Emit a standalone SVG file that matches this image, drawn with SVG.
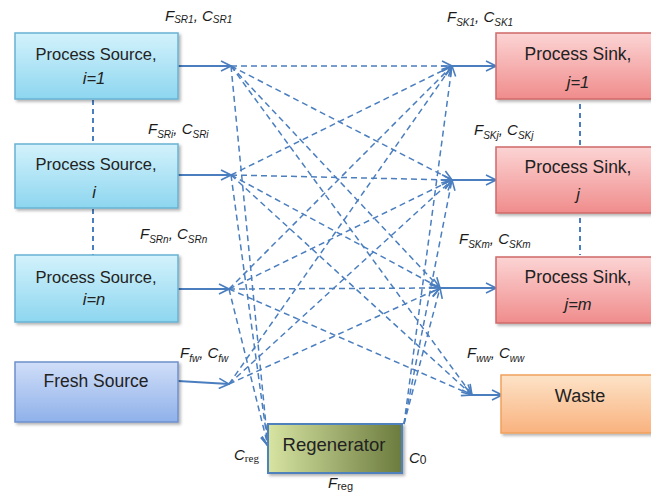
<svg xmlns="http://www.w3.org/2000/svg" width="651" height="495" viewBox="0 0 651 495">
<defs>
<linearGradient id="gSrc" x1="0" y1="0" x2="0" y2="1"><stop offset="0" stop-color="#d3f2fc"/><stop offset="1" stop-color="#8dd6ef"/></linearGradient>
<linearGradient id="gSink" x1="0" y1="0" x2="0" y2="1"><stop offset="0" stop-color="#fcd4d4"/><stop offset="1" stop-color="#f08c8c"/></linearGradient>
<linearGradient id="gWaste" x1="0" y1="0" x2="0" y2="1"><stop offset="0" stop-color="#fde3c8"/><stop offset="1" stop-color="#f9b27e"/></linearGradient>
<linearGradient id="gFresh" x1="0" y1="0" x2="0" y2="1"><stop offset="0" stop-color="#d0def8"/><stop offset="1" stop-color="#8fb1ea"/></linearGradient>
<linearGradient id="gReg" x1="0" y1="0" x2="1" y2="0"><stop offset="0" stop-color="#d7e4a2"/><stop offset="1" stop-color="#6b7b3e"/></linearGradient>
<filter id="sh" x="-10%" y="-10%" width="130%" height="140%"><feDropShadow dx="2" dy="2" stdDeviation="1.5" flood-color="#000" flood-opacity="0.3"/></filter>
<marker id="ah" viewBox="0 0 12 12" refX="11" refY="6" markerWidth="12" markerHeight="12" markerUnits="userSpaceOnUse" orient="auto">
<path d="M1,1 L11,6 L1,11" fill="none" stroke="#4a7ebf" stroke-width="1.6" stroke-dasharray="none"/>
</marker>
</defs>
<style>
.box{stroke-width:1.5;filter:url(#sh)}
.src{fill:url(#gSrc);stroke:#68b2d4}
.sink{fill:url(#gSink);stroke:#cf6a6a}
.waste{fill:url(#gWaste);stroke:#f0a15e}
.fresh{fill:url(#gFresh);stroke:#6e90cc}
.reg{fill:url(#gReg);stroke:#4f81bd;stroke-width:2}
.t{font-family:"Liberation Sans",Arial,sans-serif;font-size:16.5px;fill:#222;text-anchor:middle}
.ti{font-style:italic}
.lab{font-family:"Liberation Sans",Arial,sans-serif;font-size:15px;font-style:italic;fill:#1a1a1a}
.lab tspan.s{font-size:10px}
.solid{stroke:#4a7ebf;stroke-width:2;fill:none}
.dash{stroke:#4a7ebf;stroke-width:1.5;fill:none;stroke-dasharray:6,4}
.vd{stroke:#4a7ebf;stroke-width:2;fill:none;stroke-dasharray:5,4}
</style>

<g id="connectors">
<line class="vd" x1="93" y1="100" x2="93" y2="144"/>
<line class="vd" x1="93" y1="209" x2="93" y2="255"/>
<line class="vd" x1="580" y1="104" x2="580" y2="145"/>
<line class="vd" x1="580" y1="218" x2="580" y2="255"/>

<line class="solid" x1="178" y1="66" x2="231" y2="66" marker-end="url(#ah)"/>
<line class="solid" x1="178" y1="175" x2="231" y2="175" marker-end="url(#ah)"/>
<line class="solid" x1="178" y1="289" x2="229" y2="289" marker-end="url(#ah)"/>
<line class="solid" x1="178" y1="381" x2="229" y2="384" marker-end="url(#ah)"/>
<line class="solid" x1="452" y1="66" x2="496" y2="66" marker-end="url(#ah)"/>
<line class="solid" x1="452" y1="180" x2="496" y2="180" marker-end="url(#ah)"/>
<line class="solid" x1="440" y1="288" x2="496" y2="288" marker-end="url(#ah)"/>
<line class="solid" x1="472" y1="395" x2="502" y2="395" marker-end="url(#ah)"/>

<line class="dash" x1="231" y1="66" x2="452" y2="66" marker-end="url(#ah)"/>
<line class="dash" x1="231" y1="66" x2="452" y2="180" marker-end="url(#ah)"/>
<line class="dash" x1="231" y1="66" x2="440" y2="288" marker-end="url(#ah)"/>
<line class="dash" x1="231" y1="66" x2="472" y2="395" marker-end="url(#ah)"/>
<line class="dash" x1="231" y1="66" x2="268" y2="446" marker-end="url(#ah)"/>

<line class="dash" x1="231" y1="175" x2="452" y2="66" marker-end="url(#ah)"/>
<line class="dash" x1="231" y1="175" x2="452" y2="180" marker-end="url(#ah)"/>
<line class="dash" x1="231" y1="175" x2="440" y2="288" marker-end="url(#ah)"/>
<line class="dash" x1="231" y1="175" x2="472" y2="395" marker-end="url(#ah)"/>
<line class="dash" x1="231" y1="175" x2="268" y2="446" marker-end="url(#ah)"/>

<line class="dash" x1="229" y1="289" x2="452" y2="66" marker-end="url(#ah)"/>
<line class="dash" x1="229" y1="289" x2="452" y2="180" marker-end="url(#ah)"/>
<line class="dash" x1="229" y1="289" x2="440" y2="288" marker-end="url(#ah)"/>
<line class="dash" x1="229" y1="289" x2="472" y2="395" marker-end="url(#ah)"/>
<line class="dash" x1="229" y1="289" x2="268" y2="446" marker-end="url(#ah)"/>

<line class="dash" x1="229" y1="384" x2="452" y2="66" marker-end="url(#ah)"/>
<line class="dash" x1="229" y1="384" x2="452" y2="180" marker-end="url(#ah)"/>
<line class="dash" x1="229" y1="384" x2="440" y2="288" marker-end="url(#ah)"/>

<line class="dash" x1="404" y1="424" x2="452" y2="66" marker-end="url(#ah)"/>
<line class="dash" x1="404" y1="424" x2="452" y2="180" marker-end="url(#ah)"/>
<line class="dash" x1="404" y1="424" x2="440" y2="288" marker-end="url(#ah)"/>
</g>

<g id="source1"><rect class="box src" x="15" y="33" width="163" height="66"/>
<text class="t" x="96" y="60">Process Source,</text><text class="t ti" x="94" y="84">i=1</text></g>
<g id="sourcei"><rect class="box src" x="15" y="144" width="163" height="64"/>
<text class="t" x="96" y="170">Process Source,</text><text class="t ti" x="94" y="198">i</text></g>
<g id="sourcen"><rect class="box src" x="15" y="255" width="163" height="67"/>
<text class="t" x="96" y="283">Process Source,</text><text class="t ti" x="94" y="305">i=n</text></g>
<g id="fresh"><rect class="box fresh" x="15" y="362" width="163" height="60"/>
<text class="t" x="96" y="387" style="font-size:17.5px">Fresh Source</text></g>

<g id="sink1"><rect class="box sink" x="496" y="33" width="170" height="66"/>
<text class="t" x="578" y="60" style="font-size:17.5px">Process Sink,</text><text class="t ti" x="578" y="88">j=1</text></g>
<g id="sinkj"><rect class="box sink" x="496" y="147" width="170" height="66"/>
<text class="t" x="578" y="173" style="font-size:17.5px">Process Sink,</text><text class="t ti" x="578" y="200">j</text></g>
<g id="sinkm"><rect class="box sink" x="496" y="257" width="170" height="66"/>
<text class="t" x="578" y="283" style="font-size:17.5px">Process Sink,</text><text class="t ti" x="578" y="310">j=m</text></g>
<g id="waste"><rect class="box waste" x="501" y="375" width="170" height="58"/>
<text class="t" x="580" y="402" style="font-size:18px">Waste</text></g>
<g id="regenerator"><rect class="box reg" x="268" y="424" width="134" height="49"/>
<text class="t" x="334" y="451" style="font-size:18.5px">Regenerator</text></g>

<g id="labels">
<text class="lab" x="165" y="21">F<tspan class="s" dy="2">SR1</tspan><tspan dy="-2">, C</tspan><tspan class="s" dy="2">SR1</tspan></text>
<text class="lab" x="148" y="134">F<tspan class="s" dy="4">SRi</tspan><tspan dy="-4">, C</tspan><tspan class="s" dy="4">SRi</tspan></text>
<text class="lab" x="140" y="239">F<tspan class="s" dy="4">SRn</tspan><tspan dy="-4">, C</tspan><tspan class="s" dy="4">SRn</tspan></text>
<text class="lab" x="180" y="358">F<tspan class="s" dy="4">fw</tspan><tspan dy="-4">, C</tspan><tspan class="s" dy="4">fw</tspan></text>
<text class="lab" x="447" y="22">F<tspan class="s" dy="4">SK1</tspan><tspan dy="-4">, C</tspan><tspan class="s" dy="4">SK1</tspan></text>
<text class="lab" x="474" y="135">F<tspan class="s" dy="4">SKj</tspan><tspan dy="-4">, C</tspan><tspan class="s" dy="4">SKj</tspan></text>
<text class="lab" x="459" y="244">F<tspan class="s" dy="4">SKm</tspan><tspan dy="-4">, C</tspan><tspan class="s" dy="4">SKm</tspan></text>
<text class="lab" x="467" y="358">F<tspan class="s" dy="4">ww</tspan><tspan dy="-4">, C</tspan><tspan class="s" dy="4">ww</tspan></text>
<text class="lab" x="234" y="460">C<tspan class="s" dy="2" style="font-style:normal;font-family:'Liberation Serif',serif;font-size:11px">reg</tspan></text>
<text class="lab" x="409" y="463">C<tspan style="font-style:normal;font-size:12px" dy="1">0</tspan></text>
<text class="lab" x="328" y="488">F<tspan class="s" dy="2" style="font-style:normal;font-size:11px">reg</tspan></text>
</g>
</svg>
